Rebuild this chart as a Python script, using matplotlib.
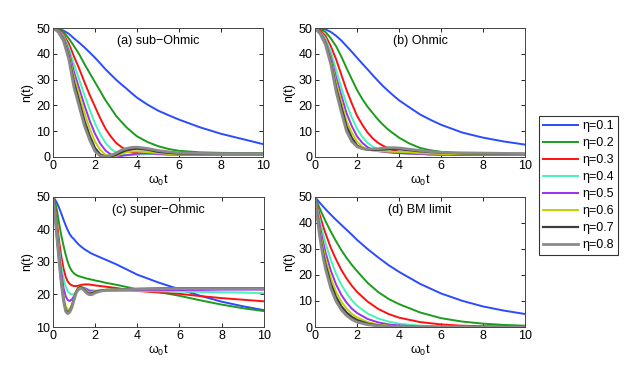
import matplotlib
matplotlib.use('Agg')
import matplotlib.pyplot as plt

plt.rcParams['font.family'] = ['Liberation Sans', 'DejaVu Sans']
plt.rcParams['mathtext.default'] = 'regular'
plt.rcParams['font.size'] = 9

# coupling strengths and line colours
etas = ['0.1', '0.2', '0.3', '0.4', '0.5', '0.6', '0.7', '0.8']
colors = ['#2a4bff', '#1c9c1c', '#ff1010', '#45f5b5', '#9a30f0', '#c2d200', '#3c3c3c', '#8a8a8a']
widths = [1.4, 1.4, 1.4, 1.4, 1.4, 1.4, 1.6, 2.0]

# (a) sub-Ohmic
t_a = [0, 0.25, 0.5, 0.75, 1, 1.25, 1.5, 1.75, 2, 2.25, 2.5, 2.75, 3, 3.25, 3.5, 3.75, 4, 4.5, 5, 5.5, 6, 7, 8, 9, 10]
n_a = [
    [50, 49.8, 49, 47.8, 46, 44.3, 42.5, 40.5, 38.5, 36.3, 34, 32, 30, 28.2, 26.5, 24.7, 23, 20.3, 18, 16.2, 14.5, 11.5, 9, 7, 5],
    [50, 49.6, 48.5, 46, 43, 39.8, 36, 32.5, 29, 25.5, 22, 19, 16, 13.7, 11.5, 9.7, 8, 5.8, 4.2, 3.1, 2.4, 1.8, 1.6, 1.5, 1.5],
    [50, 49.3, 47.5, 44, 39, 34.2, 29, 24, 19.5, 15, 11, 8, 5.5, 3.9, 2.7, 1.9, 1.5, 1.2, 1.1, 1.0, 1.0, 1.0, 1.0, 1.0, 1.0],
    [50, 49, 47, 42.5, 36, 30, 24, 18.3, 13, 8.8, 5.5, 3.2, 1.8, 1.0, 0.7, 0.7, 0.9, 1.1, 1.1, 1.0, 1.0, 0.9, 0.9, 0.9, 0.9],
    [50, 48.8, 46.5, 41, 33, 26.5, 20, 14, 9, 5.2, 2.5, 1.0, 0.5, 0.4, 0.7, 1.0, 1.3, 1.4, 1.2, 1.0, 0.9, 0.8, 0.8, 0.8, 0.8],
    [50, 48.7, 46, 40, 31, 24, 17, 11, 6, 2.8, 0.8, 0.3, 0.5, 1.2, 1.8, 2.1, 2.2, 1.9, 1.5, 1.2, 1.0, 1.0, 1.0, 1.0, 1.0],
    [50, 48.6, 45.5, 39, 29, 21.5, 14, 8.2, 3.5, 1.0, 0.2, 0.3, 0.8, 1.8, 2.6, 3.0, 3.2, 2.8, 2.0, 1.6, 1.3, 1.2, 1.2, 1.2, 1.2],
    [50, 48.5, 45, 38, 27, 19.5, 12, 6.5, 2.2, 0.4, 0.2, 0.6, 1.5, 2.6, 3.3, 3.7, 3.8, 3.3, 2.5, 2.0, 1.6, 1.4, 1.3, 1.3, 1.3],
]

# (b) Ohmic
t_b = t_a
n_b = [
    [50, 49.8, 49.5, 48.5, 47, 45.2, 43, 40.8, 38.5, 36.2, 34, 31.7, 29.5, 27.4, 25.5, 23.7, 22, 19.2, 16.5, 14.4, 12.5, 9.5, 7.5, 6, 4.8],
    [50, 49.5, 48.5, 46, 43, 39, 34.5, 30.2, 26, 22.5, 19.5, 17, 14.5, 12.4, 10.5, 9, 7.5, 5.2, 3.5, 2.6, 2, 1.3, 1, 0.9, 0.8],
    [50, 49, 47, 43, 38, 32, 26, 20.8, 16, 12.5, 9.5, 7.2, 5.5, 4.3, 3.3, 2.6, 2, 1.5, 1.2, 1.0, 0.9, 0.8, 0.8, 0.8, 0.8],
    [50, 48.5, 46, 41, 34, 27, 20.5, 15.3, 11, 7.8, 5.5, 4, 3, 2.4, 2, 1.7, 1.5, 1.3, 1.2, 1.0, 0.9, 0.8, 0.8, 0.8, 0.8],
    [50, 48.3, 45, 39, 31, 24, 17, 12, 8, 5.5, 3.8, 2.8, 2.3, 2, 1.8, 1.6, 1.5, 1.3, 1.2, 1.0, 0.9, 0.8, 0.8, 0.8, 0.8],
    [50, 48, 44.5, 38, 29, 21.5, 14, 9.5, 6, 4, 3, 2.5, 2.3, 2.2, 2.1, 2.0, 2.0, 1.8, 1.5, 1.3, 1.2, 1.1, 1.0, 1.0, 1.0],
    [50, 47.8, 44, 37, 27, 19.5, 12, 7.5, 4.5, 3.3, 2.8, 2.7, 2.8, 2.9, 3.0, 3.0, 3.0, 2.6, 2.2, 1.9, 1.7, 1.4, 1.3, 1.2, 1.2],
    [50, 47.7, 43.5, 36, 25.5, 17.5, 10, 6, 4, 3.2, 3, 3.1, 3.2, 3.4, 3.6, 3.6, 3.5, 3.0, 2.5, 2.1, 1.8, 1.6, 1.5, 1.4, 1.3],
]

# (c) super-Ohmic
t_c = [0, 0.1, 0.2, 0.3, 0.4, 0.5, 0.6, 0.7, 0.8, 0.9, 1.0, 1.1, 1.2, 1.3, 1.4, 1.5, 1.6, 1.7, 1.8, 1.9, 2.0, 2.25, 2.5, 3, 3.5, 4, 5, 6, 7, 8, 9, 10]
n_c = [
    [50, 49.2, 48, 46.5, 44.8, 43, 41.3, 39.8, 38.5, 37.6, 37, 36.2, 35.5, 34.9, 34.4, 33.9, 33.5, 33.1, 32.7, 32.4, 32.1, 31.4, 30.7, 29.3, 27.7, 26.1, 23.7, 21.6, 19.6, 17.8, 16.4, 15.2],
    [50, 48.5, 45.5, 41.5, 38, 35, 32.3, 30, 28.3, 27.2, 26.5, 26, 25.7, 25.5, 25.3, 25.1, 24.9, 24.8, 24.6, 24.5, 24.3, 24, 23.6, 23, 22.3, 21.6, 20.8, 19.6, 18.2, 16.9, 15.8, 14.9],
    [50, 46.5, 41.5, 36, 31.5, 28, 25.5, 24, 23.2, 22.8, 22.6, 22.6, 22.7, 22.9, 23.0, 23.1, 23.1, 23.1, 23.0, 22.9, 22.8, 22.6, 22.4, 22.0, 21.5, 21.1, 20.6, 20.2, 19.5, 18.9, 18.4, 17.9],
    [50, 45.5, 39.5, 33.5, 28.5, 25, 22.5, 21, 20.3, 20, 20.2, 20.7, 21.2, 21.6, 21.8, 21.8, 21.7, 21.5, 21.4, 21.3, 21.2, 21.1, 21.1, 21.1, 21.1, 21.1, 21, 20.9, 20.8, 20.7, 20.6, 20.4],
    [50, 45, 38.5, 32, 26.5, 22, 19.5, 18.3, 18, 18.5, 19.5, 20.7, 21.6, 22, 22.1, 22, 21.6, 21.2, 21, 21, 21.1, 21.2, 21.3, 21.3, 21.3, 21.3, 21.3, 21.4, 21.4, 21.5, 21.5, 21.5],
    [50, 44.5, 37.5, 30.5, 24.5, 19.5, 16.5, 15.3, 15.5, 17, 19, 21, 22.1, 22.4, 22.2, 21.7, 21.1, 20.7, 20.6, 20.8, 21, 21.3, 21.5, 21.6, 21.7, 21.8, 21.9, 22, 22, 22, 22, 22],
    [50, 44.3, 37, 30, 23.5, 18.5, 15.3, 14.5, 15, 16.5, 18.7, 20.8, 22, 22.3, 22, 21.4, 20.7, 20.3, 20.3, 20.5, 20.8, 21.2, 21.4, 21.5, 21.6, 21.7, 21.8, 21.9, 21.9, 21.9, 21.9, 21.9],
    [50, 44, 36.5, 29.5, 23, 18, 14.8, 14.1, 14.6, 16, 18.3, 20.4, 21.6, 22, 21.7, 21.1, 20.4, 20, 19.9, 20.1, 20.5, 21, 21.3, 21.4, 21.5, 21.6, 21.7, 21.8, 21.8, 21.8, 21.8, 21.8],
]

# (d) BM limit
t_d = [0, 0.1, 0.2, 0.3, 0.4, 0.5, 0.75, 1, 1.25, 1.5, 1.75, 2, 2.5, 3, 3.5, 4, 5, 6, 7, 8, 9, 10]
n_d = [
    [50, 49, 48, 47.1, 46.2, 45.3, 43.2, 41.2, 39.3, 37.4, 35.5, 33.5, 30, 26.8, 23.8, 21.2, 16.6, 12.9, 10.1, 7.9, 6.3, 5],
    [50, 48, 46.1, 44.2, 42.4, 40.7, 36.7, 33, 29.6, 26.6, 23.9, 21.5, 17, 13.5, 10.8, 8.8, 5.6, 3.4, 2.1, 1.3, 0.8, 0.5],
    [50, 46.8, 43.8, 41, 38.4, 36, 30.5, 26, 22, 18.7, 15.9, 13.5, 9.8, 7, 5, 3.6, 1.9, 1, 0.5, 0.3, 0.2, 0.1],
    [50, 45.8, 42, 38.5, 35.3, 32.3, 25.8, 20.5, 16.3, 13, 10.3, 8.2, 5.2, 3.3, 2.1, 1.3, 0.5, 0.2, 0.1, 0, 0, 0],
    [50, 44.8, 40.1, 35.9, 32.1, 28.7, 21.7, 16.4, 12.4, 9.4, 7.1, 5.4, 3.1, 1.8, 1, 0.6, 0.2, 0.1, 0, 0, 0, 0],
    [50, 44, 38.6, 33.9, 29.8, 26.2, 18.9, 13.6, 9.8, 7.1, 5.1, 3.7, 1.9, 1, 0.5, 0.3, 0.1, 0, 0, 0, 0, 0],
    [50, 43.3, 37.4, 32.3, 27.9, 24.1, 16.7, 11.6, 8, 5.6, 3.9, 2.7, 1.3, 0.6, 0.3, 0.1, 0, 0, 0, 0, 0, 0],
    [50, 42.6, 36.2, 30.8, 26.2, 22.3, 14.9, 9.9, 6.6, 4.4, 2.9, 1.9, 0.9, 0.4, 0.2, 0.1, 0, 0, 0, 0, 0, 0],
]

panels = [
    ('(a) sub\u2212Ohmic', t_a, n_a, [0.0845, 0.5836, 0.335, 0.342], (0, 50)),
    ('(b) Ohmic', t_b, n_b, [0.5024, 0.5836, 0.335, 0.342], (0, 50)),
    ('(c) super\u2212Ohmic', t_c, n_c, [0.0845, 0.1326, 0.336, 0.345], (10, 50)),
    ('(d) BM limit', t_d, n_d, [0.5024, 0.1326, 0.335, 0.345], (0, 50)),
]

fig = plt.figure(figsize=(6.27, 3.77), dpi=100)

axes = []
for title, t, curves, pos, ylim in panels:
    ax = fig.add_axes(pos)
    for i in range(len(curves)):
        ax.plot(t, curves[i], color=colors[i], lw=widths[i], label='\u03b7=' + etas[i])
    ax.set_xlim(0, 10)
    ax.set_ylim(*ylim)
    ax.set_xticks([0, 2, 4, 6, 8, 10])
    ax.set_yticks(list(range(ylim[0], 51, 10)))
    ax.tick_params(direction='in', top=True, right=True, length=3, width=0.6, labelsize=9, pad=2)
    for s in ax.spines.values():
        s.set_linewidth(0.7)
        s.set_color('#444444')
    ax.set_xlabel('\u03c9$_0$t', labelpad=1)
    ax.set_ylabel('n(t)', labelpad=2)
    ax.text(0.5, 0.9, title, transform=ax.transAxes, ha='center', va='center', fontsize=9)
    axes.append(ax)

# legend box sits between the right-hand panels and the figure edge
h, l = axes[0].get_legend_handles_labels()
leg = fig.legend(h, l, loc='upper left', bbox_to_anchor=(0.859, 0.693), frameon=True,
                 fancybox=False, edgecolor='black', fontsize=9, handlelength=2.8,
                 labelspacing=0.4, borderpad=0.35, handletextpad=0.35, borderaxespad=0)
leg.get_frame().set_linewidth(0.8)

fig.savefig('out.png', dpi=100)
